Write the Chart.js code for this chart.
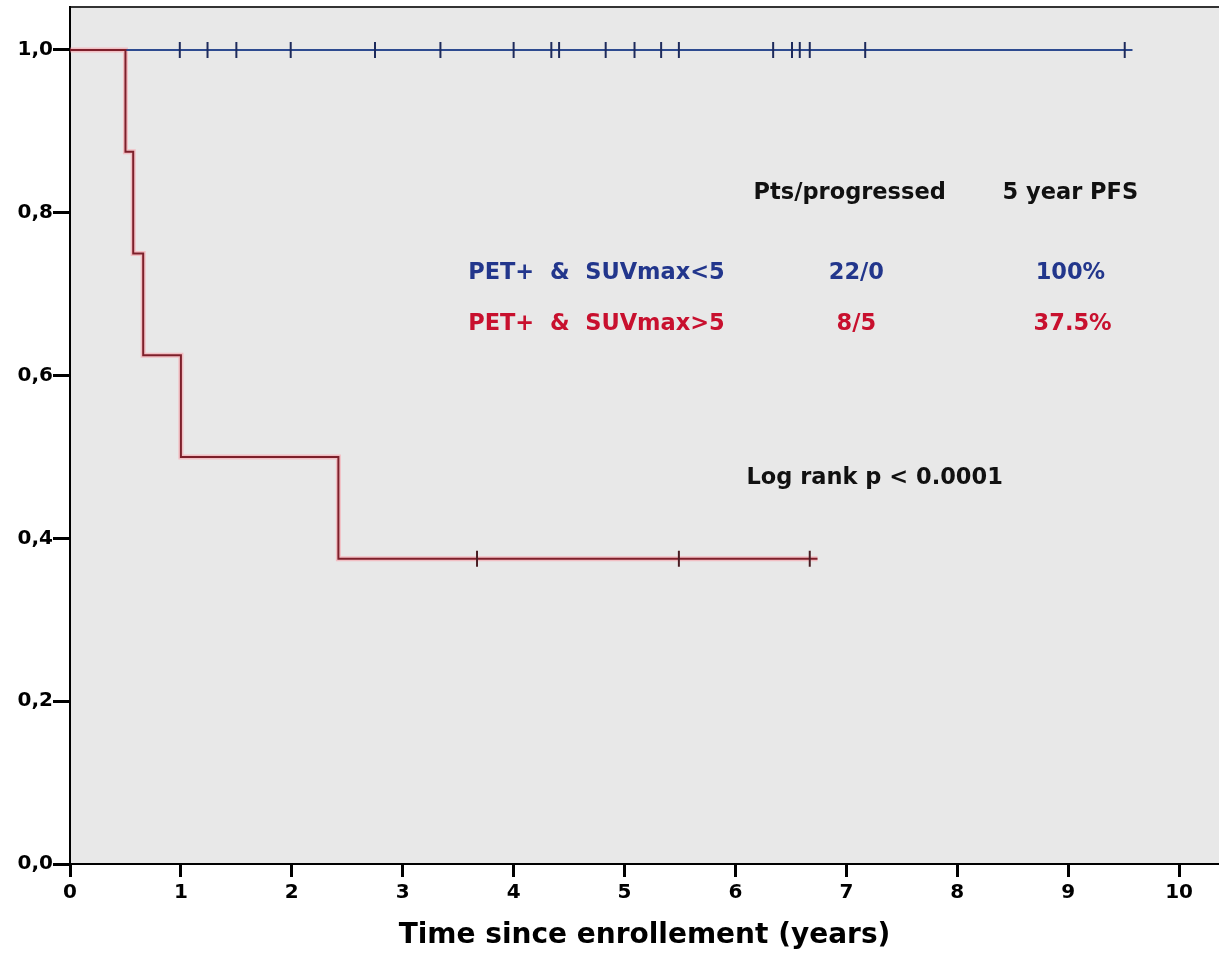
<!DOCTYPE html>
<html>
<head>
<meta charset="utf-8">
<script src="https://cdn.jsdelivr.net/npm/chart.js@4/dist/chart.umd.min.js"></script>
<style>
  html, body { margin: 0; padding: 0; background: #fff; }
  #wrap { width: 1219px; height: 957px; }
</style>
</head>
<body>
<div id="wrap"><canvas id="kmChart" width="1219" height="957"></canvas></div>
<script>
// 곡선 데이터
const blueTimes = [0, 9.58];
const blueSurv = [1, 1];
const blueCensor = [0.99, 1.24, 1.50, 1.99, 2.75, 3.34, 4.00, 4.34, 4.41, 4.83, 5.09, 5.33, 5.49, 6.34, 6.51, 6.58, 6.67, 7.17, 9.51];

const redTimes = [0, 0.50, 0.57, 0.66, 1.00, 2.42, 6.74];
const redSurv = [1, 0.875, 0.75, 0.625, 0.5, 0.375, 0.375];
const redCensor = [3.67, 5.49, 6.67];

const xTicks = [0, 1, 2, 3, 4, 5, 6, 7, 8, 9, 10];
const yTicks = [0, 0.2, 0.4, 0.6, 0.8, 1.0];

const BLUE_TXT = '#22368c';
const RED_TXT = '#c8102e';
const FONT = '"DejaVu Sans", sans-serif';

// 단계 함수에서 생존율 찾기
const survAt = (times, surv, t) => {
    let s = surv[0];
    times.forEach((tt, i) => { if (tt <= t) s = surv[i]; });
    return s;
};
const pts = (xs, ys) => xs.map((x, i) => ({ x, y: ys[i] }));
const censorPts = (cs, times, surv) => cs.map(t => ({ x: t, y: survAt(times, surv, t) }));

// 주석 텍스트
const notes = [
    { text: 'Pts/progressed', x: 7.03, y: 0.824, align: 'center', color: '#111' },
    { text: '5 year PFS', x: 9.02, y: 0.824, align: 'center', color: '#111' },
    { text: 'PET+  &  SUVmax<5', x: 3.59, y: 0.726, align: 'left', color: BLUE_TXT },
    { text: '22/0', x: 7.09, y: 0.726, align: 'center', color: BLUE_TXT },
    { text: '100%', x: 9.02, y: 0.726, align: 'center', color: BLUE_TXT },
    { text: 'PET+  &  SUVmax>5', x: 3.59, y: 0.663, align: 'left', color: RED_TXT },
    { text: '8/5', x: 7.09, y: 0.663, align: 'center', color: RED_TXT },
    { text: '37.5%', x: 9.04, y: 0.663, align: 'center', color: RED_TXT },
    { text: 'Log rank p < 0.0001', x: 6.10, y: 0.474, align: 'left', color: '#111' }
];

const plotBg = {
    id: 'plotBg',
    beforeDraw(chart) {
        const { ctx, chartArea: a } = chart;
        ctx.save();
        ctx.fillStyle = '#e8e8e8';
        ctx.fillRect(a.left, a.top, a.right - a.left, a.bottom - a.top);
        ctx.strokeStyle = '#333';
        ctx.lineWidth = 2;
        ctx.beginPath();
        ctx.moveTo(a.left, a.top);
        ctx.lineTo(a.right, a.top);
        ctx.stroke();
        ctx.restore();
    },
    afterDatasetsDraw(chart) {
        const { ctx, scales } = chart;
        ctx.save();
        ctx.font = 'bold 22.5px ' + FONT;
        ctx.textBaseline = 'middle';
        notes.forEach(n => {
            ctx.fillStyle = n.color;
            ctx.textAlign = n.align;
            ctx.fillText(n.text, scales.x.getPixelForValue(n.x), scales.y.getPixelForValue(n.y));
        });
        ctx.restore();
    }
};

new Chart(document.getElementById('kmChart'), {
    type: 'scatter',
    data: {
        datasets: [
            { data: censorPts(redCensor, redTimes, redSurv), showLine: false, pointStyle: 'line', rotation: 90,
              pointRadius: 8, borderColor: '#4a1c22', borderWidth: 2, order: 0 },
            { data: pts(redTimes, redSurv), showLine: true, stepped: true, borderColor: '#7d1f2a',
              borderWidth: 2, pointRadius: 0, order: 1 },
            { data: pts(redTimes, redSurv), showLine: true, stepped: true, borderColor: 'rgba(255,140,150,0.45)',
              borderWidth: 5, pointRadius: 0, order: 4 },
            { data: censorPts(blueCensor, blueTimes, blueSurv), showLine: false, pointStyle: 'line', rotation: 90,
              pointRadius: 8, borderColor: '#1d2a5c', borderWidth: 2, order: 2 },
            { data: pts(blueTimes, blueSurv), showLine: true, stepped: true, borderColor: '#2d4a8f',
              borderWidth: 2, pointRadius: 0, order: 3 }
        ]
    },
    options: {
        responsive: false,
        animation: false,
        layout: { autoPadding: false, padding: { top: 7, right: 0, left: 0, bottom: 0 } },
        plugins: { legend: { display: false }, tooltip: { enabled: false } },
        scales: {
            x: {
                type: 'linear', min: 0, max: 10.36,
                afterBuildTicks: s => { s.ticks = xTicks.map(v => ({ value: v })); },
                afterFit: s => { s.height = 93; s.paddingLeft = 0; s.paddingRight = 0; },
                grid: { drawOnChartArea: false, drawTicks: true, tickLength: 13, tickWidth: 3, tickColor: '#000', lineWidth: 3 },
                border: { color: '#000', width: 2 },
                ticks: { color: '#000', font: { family: FONT, size: 20, weight: 'bold' }, padding: 4, maxRotation: 0 },
                title: { display: true, text: 'Time since enrollement (years)', color: '#000',
                         font: { family: FONT, size: 28, weight: 'bold' }, padding: { top: 12 } }
            },
            y: {
                type: 'linear', min: 0, max: 1.0528,
                afterBuildTicks: s => { s.ticks = yTicks.map(v => ({ value: v })); },
                afterFit: s => { s.width = 70; s.paddingTop = 0; s.paddingBottom = 0; },
                grid: { drawOnChartArea: false, drawTicks: true, tickLength: 17, tickWidth: 3, tickColor: '#000', lineWidth: 3 },
                border: { color: '#000', width: 2 },
                ticks: { color: '#000', font: { family: FONT, size: 20, weight: 'bold' }, padding: 0,
                         callback: v => v.toFixed(1).replace('.', ',') }
            }
        }
    },
    plugins: [plotBg]
});
</script>
</body>
</html>
